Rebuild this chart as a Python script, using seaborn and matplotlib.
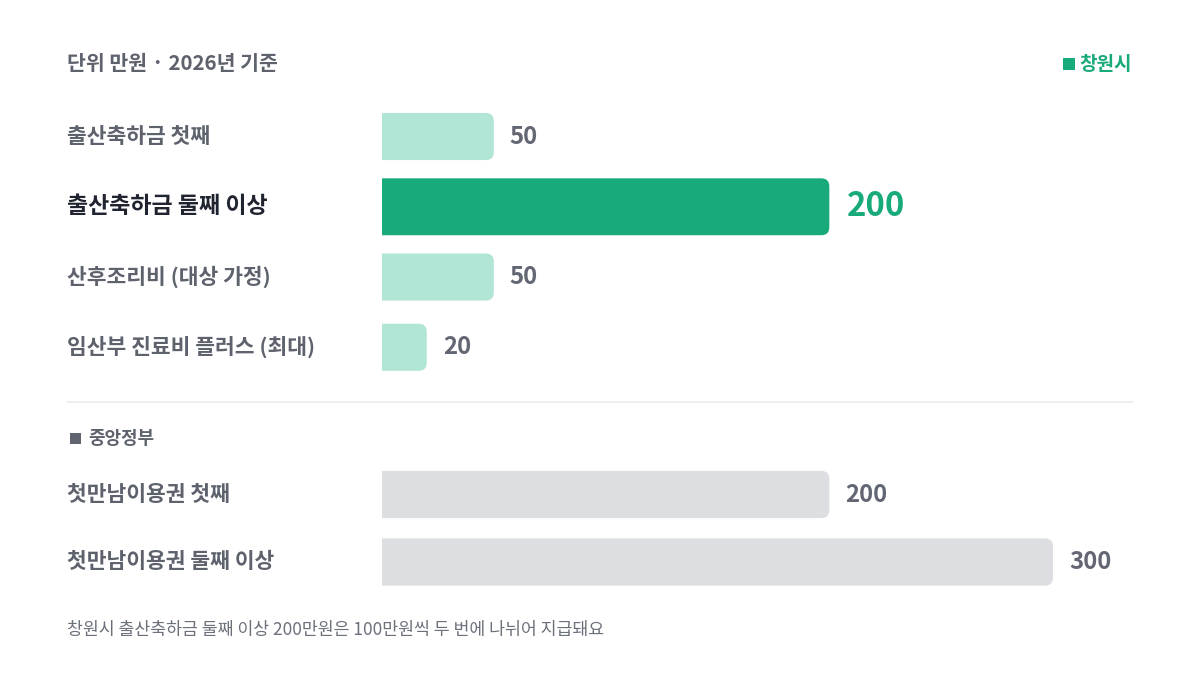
import matplotlib
matplotlib.use("Agg")
import matplotlib.pyplot as plt
import matplotlib.transforms as mtransforms
from matplotlib.path import Path
from matplotlib.patches import PathPatch
import seaborn as sns
import pandas as pd

# ---------------- data ----------------
city_labels = ["출산축하금 첫째", "출산축하금 둘째 이상", "산후조리비 (대상 가정)", "임산부 진료비 플러스 (최대)"]
city_values = [50, 200, 50, 20]
city_highlight = [False, True, False, False]

gov_labels = ["첫만남이용권 첫째", "첫만남이용권 둘째 이상"]
gov_values = [200, 300]

header_text = "단위 만원 · 2026년 기준"
legend_city = "창원시"
legend_gov = "중앙정부"
footnote = "창원시 출산축하금 둘째 이상 200만원은 100만원씩 두 번에 나뉘어 지급돼요"

# ---------------- style ----------------
GREEN = "#19aa7c"
LIGHT_GREEN = "#b1e5d5"
GREY_BAR = "#dddee2"
LABEL = "#5d626d"
LABEL_DARK = "#1f2430"
VALUE = "#626773"

sns.set_theme(style="white")
plt.rcParams["font.family"] = ["Noto Sans CJK KR", "DejaVu Sans"]

W, H = 1200, 681
fig = plt.figure(figsize=(W / 100, H / 100), dpi=100)
fig.patch.set_facecolor("white")


def px(v):
    return v * 0.72  # pixel size -> points at 100 dpi


def fig_ax(x0, y_top, x1, y_bot):
    return fig.add_axes([x0 / W, 1 - y_bot / H, (x1 - x0) / W, (y_bot - y_top) / H])


def round_right(ax, patch, r_px=8):
    """Replace a seaborn bar with one whose right corners are rounded."""
    x0, y0 = patch.get_x(), patch.get_y()
    w, h = patch.get_width(), patch.get_height()
    fig.canvas.draw()
    p0 = ax.transData.transform((0, 0))
    p1 = ax.transData.transform((1, 1))
    sx, sy = abs(p1[0] - p0[0]), abs(p1[1] - p0[1])
    rx = min(r_px / sx, w / 2)
    ry = min(r_px / sy, abs(h) / 2)
    ya, yb = min(y0, y0 + h), max(y0, y0 + h)
    x1 = x0 + w
    verts = [(x0, ya), (x1 - rx, ya), (x1, ya), (x1, ya + ry), (x1, yb - ry),
             (x1, yb), (x1 - rx, yb), (x0, yb), (x0, ya)]
    codes = [Path.MOVETO, Path.LINETO, Path.CURVE3, Path.CURVE3, Path.LINETO,
             Path.CURVE3, Path.CURVE3, Path.LINETO, Path.CLOSEPOLY]
    pp = PathPatch(Path(verts, codes), facecolor=patch.get_facecolor(),
                   edgecolor="none", lw=0, zorder=3)
    patch.set_visible(False)
    ax.add_patch(pp)


X_LEFT, X_RIGHT = 382, 1053  # pixel extent of 0..300

# ---------------- top group (창원시) ----------------
df_city = pd.DataFrame({"label": city_labels, "value": city_values})
city_colors = [GREEN if hl else LIGHT_GREEN for hl in city_highlight]
ax1 = fig_ax(X_LEFT, 101.4, X_RIGHT, 382.4)
sns.barplot(data=df_city, y="label", x="value", hue="label", palette=city_colors,
            legend=False, orient="h", width=0.67, ax=ax1, saturation=1)
ax1.set_xlim(0, 300)
ax1.set_ylim(3.5, -0.5)

for i, patch in enumerate(list(ax1.patches)):
    if city_highlight[i]:
        c = patch.get_y() + patch.get_height() / 2
        hh = 0.81
        patch.set_y(c - hh / 2)
        patch.set_height(hh)
for patch in list(ax1.patches):
    round_right(ax1, patch, 8)

# ---------------- bottom group (중앙정부) ----------------
df_gov = pd.DataFrame({"label": gov_labels, "value": gov_values})
ax2 = fig_ax(X_LEFT, 460.75, X_RIGHT, 595.75)
sns.barplot(data=df_gov, y="label", x="value", color=GREY_BAR, orient="h",
            width=0.70, ax=ax2, saturation=1)
ax2.set_xlim(0, 300)
ax2.set_ylim(1.5, -0.5)
for patch in list(ax2.patches):
    round_right(ax2, patch, 8)

for ax in (ax1, ax2):
    ax.set_axis_off()

# ---------------- labels ----------------
tr1 = mtransforms.blended_transform_factory(fig.transFigure, ax1.transData)
tr2 = mtransforms.blended_transform_factory(fig.transFigure, ax2.transData)

for i, (lab, val, hl) in enumerate(zip(city_labels, city_values, city_highlight)):
    ax1.text(67 / W, i, lab, transform=tr1, ha="left", va="center",
             fontsize=px(23) if hl else px(21.5), fontweight="bold" if hl else "semibold",
             color=LABEL_DARK if hl else LABEL)
    ax1.annotate(str(val), xy=(val, i), xytext=(16 if not hl else 18, 0),
                 textcoords="offset pixels", ha="left", va="center",
                 fontsize=px(33) if hl else px(24), fontweight="bold",
                 color=GREEN if hl else VALUE, annotation_clip=False)

for i, (lab, val) in enumerate(zip(gov_labels, gov_values)):
    ax2.text(67 / W, i, lab, transform=tr2, ha="left", va="center",
             fontsize=px(21.5), fontweight="semibold", color=LABEL)
    ax2.annotate(str(val), xy=(val, i), xytext=(16, 0),
                 textcoords="offset pixels", ha="left", va="center",
                 fontsize=px(24), fontweight="bold", color=VALUE,
                 annotation_clip=False)

# header / legend
fig.text(67 / W, 1 - 64 / H, header_text, ha="left", va="center",
         fontsize=px(20.5), fontweight="semibold", color=LABEL)
fig.text(1132 / W, 1 - 64 / H, legend_city, ha="right", va="center",
         fontsize=px(19), fontweight="bold", color=GREEN)
fig.patches.append(plt.Rectangle((1063 / W, 1 - 70 / H), 12 / W, 12 / H,
                                 transform=fig.transFigure, facecolor=GREEN,
                                 edgecolor="none", figure=fig))

# separator
fig.add_artist(plt.Line2D([67 / W, 1133 / W], [1 - 402 / H, 1 - 402 / H],
                          transform=fig.transFigure, color="#ebecee", lw=1.2))

# 중앙정부 sub legend
fig.patches.append(plt.Rectangle((70 / W, 1 - 443.5 / H), 11 / W, 11 / H,
                                 transform=fig.transFigure, facecolor="#60646e",
                                 edgecolor="none", figure=fig))
fig.text(88 / W, 1 - 438.5 / H, legend_gov, ha="left", va="center",
         fontsize=px(18), fontweight="semibold", color=LABEL)

# footnote
fig.text(67 / W, 1 - 630 / H, footnote, ha="left", va="center",
         fontsize=px(17.3), fontweight="normal", color="#6b707b")

fig.savefig("out.png", dpi=100, facecolor="white")
